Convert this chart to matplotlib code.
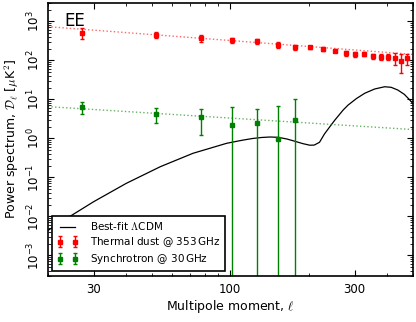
# coding: utf-8

# EE power spectrum: foregrounds vs best-fit LCDM

import matplotlib
matplotlib.use('Agg')
import matplotlib.pyplot as plt
from matplotlib.ticker import FixedLocator, FixedFormatter, LogLocator, NullFormatter

plt.rcParams['mathtext.fontset'] = 'cm'
plt.rcParams['font.family'] = 'DejaVu Sans'

# binned multipoles
ell_bins = [27, 52, 77, 102, 127, 152, 177, 202, 227, 252,
            277, 302, 327, 352, 377, 402, 427, 452, 477]

# thermal dust @ 353 GHz
dust = [510, 454, 366, 326, 307, 251, 215, 215, 198, 177,
        151, 143, 145, 128, 122, 124, 115, 94, 112]
dust_err = [160, 80, 70, 55, 50, 38, 32, 22, 20, 18,
            20, 18, 18, 20, 22, 25, 40, 47, 37]

# synchrotron @ 30 GHz
sync_ell = [27, 52, 77, 102, 127, 152, 177]
sync = [6.46, 4.27, 3.45, 2.19, 2.43, 0.97, 2.94]
sync_err = [2.2, 1.8, 2.2, 4.0, 3.2, 5.6, 7.4]

# power-law fits (end points)
fit_ell = [20, 500]
dust_fit = [730, 142]
sync_fit = [6.5, 1.68]

# best-fit LCDM EE
lcdm_ell = [20, 24, 30, 40, 54, 72, 97, 111, 122, 132, 142, 153, 165, 177, 190, 202, 210,
            220, 230, 241, 252, 271, 283, 305, 328, 358, 391, 414, 439, 465, 488, 500]
lcdm_D = [0.0043, 0.0094, 0.0237, 0.070, 0.187, 0.412, 0.745, 0.89, 0.99, 1.05, 1.08,
          1.06, 0.96, 0.84, 0.73, 0.665, 0.67, 0.79, 1.3, 1.98, 2.94, 5.3, 7.1, 10.5,
          14.3, 18.4, 21.0, 20.3, 17.3, 13.4, 9.6, 8.0]

y_major = [1e-3, 1e-2, 1e-1, 1e0, 1e1, 1e2, 1e3]
y_labels = [r'$\mathdefault{10^{-3}}$', r'$\mathdefault{10^{-2}}$',
            r'$\mathdefault{10^{-1}}$', r'$\mathdefault{10^{0}}$',
            r'$\mathdefault{10^{1}}$', r'$\mathdefault{10^{2}}$',
            r'$\mathdefault{10^{3}}$']

fig = plt.figure(figsize=(4.16, 3.22), dpi=100)
ax = fig.add_axes([0.1147, 0.1438, 0.877, 0.8478])

ax.plot(lcdm_ell, lcdm_D, color='k', lw=0.9, label=r'Best-fit $\Lambda$CDM')
ax.plot(fit_ell, dust_fit, color='r', ls=':', lw=1.0, alpha=0.6)
ax.plot(fit_ell, sync_fit, color='g', ls=':', lw=1.0, alpha=0.6)
ax.errorbar(ell_bins, dust, yerr=dust_err, fmt='s', color='r', ms=2.8,
            capsize=1.6, elinewidth=1.0, label=r'Thermal dust @ 353$\,$GHz')
ax.errorbar(sync_ell, sync, yerr=sync_err, fmt='s', color='g', ms=2.8,
            capsize=1.6, elinewidth=1.0, label=r'Synchrotron @ 30$\,$GHz')

ax.set_xscale('log')
ax.set_yscale('log')
ax.set_xlim(20, 500)
ax.set_ylim(3e-4, 3e3)

ax.xaxis.set_major_locator(FixedLocator([30, 100, 300]))
ax.xaxis.set_major_formatter(FixedFormatter(['30', '100', '300']))
ax.xaxis.set_minor_locator(FixedLocator([20, 40, 50, 60, 70, 80, 90, 200, 400, 500]))
ax.xaxis.set_minor_formatter(NullFormatter())
ax.yaxis.set_major_locator(FixedLocator(y_major))
ax.yaxis.set_major_formatter(FixedFormatter(y_labels))
ax.yaxis.set_minor_locator(LogLocator(base=10, subs=range(2, 10), numticks=20))
ax.yaxis.set_minor_formatter(NullFormatter())

ax.tick_params(which='both', direction='in', top=True, right=True, labelsize=8.5)
ax.tick_params(which='major', length=4, width=0.8)
ax.tick_params(which='minor', length=2, width=0.6)
ax.tick_params(axis='x', pad=5)
ax.tick_params(axis='y', pad=4)
for lab in ax.get_yticklabels():
    lab.set_rotation(90)
    lab.set_va('center')
for s in ax.spines.values():
    s.set_linewidth(1.2)

ax.set_xlabel(r'Multipole moment, $\ell$', fontsize=9, labelpad=2)
ax.set_ylabel(r'Power spectrum, $\mathcal{D}_\ell$ [$\mu$K$^2$]', fontsize=9, labelpad=3)
ax.text(0.047, 0.965, 'EE', transform=ax.transAxes, fontsize=12, va='top', ha='left')

leg = ax.legend(loc='lower left', numpoints=2, fontsize=7.5, fancybox=False,
                borderaxespad=0.45, framealpha=1, labelspacing=0.3,
                handletextpad=1.2, borderpad=0.45)
leg.get_frame().set_edgecolor('k')
leg.get_frame().set_linewidth(1.2)

fig.savefig('out.png', dpi=100)
